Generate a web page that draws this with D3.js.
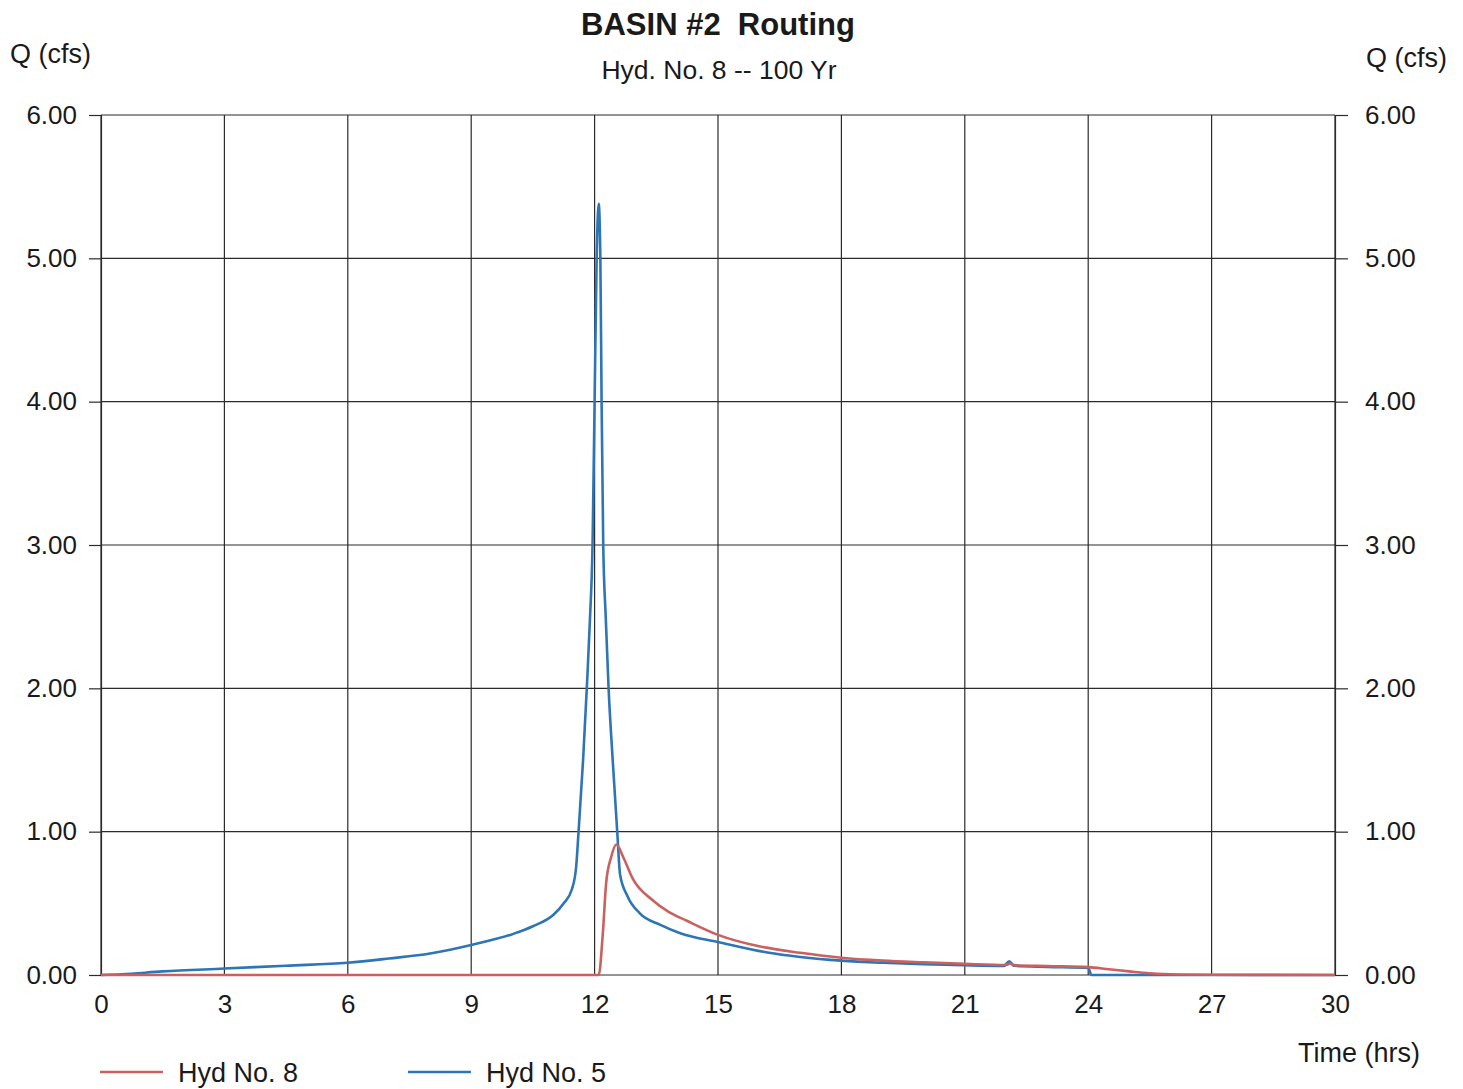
<!DOCTYPE html>
<html>
<head>
<meta charset="utf-8">
<script src="https://cdn.jsdelivr.net/npm/d3@7"></script>
<style>
  html, body { margin: 0; padding: 0; background: #ffffff; }
  svg { display: block; font-family: "Liberation Sans", Arial, sans-serif; }
</style>
</head>
<body>
<svg id="chart" width="1463" height="1089"></svg>
<script>
// Hydrograph ordinates, time in hours, flow in cfs
const hyd5Time = [0, 0.5, 1.5, 3, 4.5, 6, 7, 8, 9, 10, 10.5, 11, 11.25, 11.45, 11.55, 11.61, 11.72, 11.81, 11.89, 11.95,
  12.0, 12.05, 12.1, 12.14, 12.17, 12.21, 12.27, 12.34, 12.44, 12.55, 12.62, 12.8, 13.1, 13.6, 14.1, 15, 16.2, 17,
  18, 19, 20, 21, 21.95, 22.08, 22.2, 23, 24, 24.08, 30];
const hyd5Flow = [0, 0.005, 0.025, 0.045, 0.065, 0.085, 0.115, 0.15, 0.21, 0.285, 0.34, 0.42, 0.5, 0.6, 0.75, 1.0, 1.5, 2.0, 2.5, 3.0,
  4.0, 5.0, 5.38, 5.0, 4.0, 3.0, 2.5, 2.0, 1.5, 1.0, 0.7, 0.55, 0.43, 0.35, 0.29, 0.23, 0.157, 0.126,
  0.1, 0.085, 0.075, 0.068, 0.064, 0.095, 0.064, 0.057, 0.05, 0.0, 0.0];

const hyd8Time = [0, 12.1, 12.2, 12.28, 12.4, 12.53, 12.7, 12.93, 13.42, 13.8, 14.23, 15, 16, 17, 18, 19, 20, 21, 22, 22.1, 22.2,
  23, 24, 24.5, 25, 25.5, 26.2, 27, 30];
const hyd8Flow = [0, 0, 0.29, 0.64, 0.82, 0.91, 0.82, 0.67, 0.52, 0.44, 0.38, 0.28, 0.2, 0.155, 0.12, 0.1, 0.088, 0.078, 0.07, 0.08, 0.069,
  0.062, 0.055, 0.04, 0.025, 0.012, 0.004, 0.002, 0];

const xTicks = [0, 3, 6, 9, 12, 15, 18, 21, 24, 27, 30];
const yTicks = [0, 1, 2, 3, 4, 5, 6];

const seriesList = [
  { name: "Hyd No. 5", time: hyd5Time, flow: hyd5Flow, color: "#2e75b6" },
  { name: "Hyd No. 8", time: hyd8Time, flow: hyd8Flow, color: "#c9615f" }
];
const legendOrder = ["Hyd No. 8", "Hyd No. 5"];

const svg = d3.select("#chart");
const plot = { left: 101, right: 1335, top: 115, bottom: 975 };

const x = d3.scaleLinear().domain([0, 30]).range([plot.left, plot.right]);
const y = d3.scaleLinear().domain([0, 6]).range([plot.bottom, plot.top]);

const gridColor = "#2b2b2b";
const textColor = "#1a1a1a";

// Grid
const grid = svg.append("g").attr("stroke", gridColor).attr("stroke-width", 1.2);
grid.selectAll("line.v").data(xTicks).join("line")
  .attr("class", "v")
  .attr("x1", d => x(d)).attr("x2", d => x(d))
  .attr("y1", plot.top).attr("y2", plot.bottom);
grid.selectAll("line.h").data(yTicks).join("line")
  .attr("class", "h")
  .attr("x1", plot.left).attr("x2", plot.right)
  .attr("y1", d => y(d)).attr("y2", d => y(d));

// Axes
const fmt = d3.format(".2f");
const leftAxis = d3.axisLeft(y).tickValues(yTicks).tickFormat(fmt).tickSize(12).tickPadding(12);
const rightAxis = d3.axisRight(y).tickValues(yTicks).tickFormat(fmt).tickSize(13).tickPadding(17);
const bottomAxis = d3.axisBottom(x).tickValues(xTicks).tickFormat(d3.format("d")).tickSize(0).tickPadding(20);

function styleAxis(g) {
  g.select(".domain").attr("stroke", gridColor).attr("stroke-width", 1.2);
  g.selectAll(".tick line").attr("stroke", gridColor).attr("stroke-width", 1.2);
  g.selectAll(".tick text").attr("fill", textColor).attr("font-size", 26)
    .attr("font-family", "'Liberation Sans', Arial, sans-serif");
}

svg.append("g").attr("transform", `translate(${plot.left},0)`).call(leftAxis).call(styleAxis);
svg.append("g").attr("transform", `translate(${plot.right},0)`).call(rightAxis).call(styleAxis);
svg.append("g").attr("transform", `translate(0,${plot.bottom})`).call(bottomAxis).call(styleAxis)
  .call(g => g.select(".domain").remove());

// Flow lines
const line = d3.line()
  .x(d => x(d[0]))
  .y(d => y(d[1]))
  .curve(d3.curveMonotoneX);

svg.append("g").selectAll("path").data(seriesList).join("path")
  .attr("d", s => line(s.time.map((t, i) => [t, s.flow[i]])))
  .attr("fill", "none")
  .attr("stroke", s => s.color)
  .attr("stroke-width", 2.6)
  .attr("stroke-linejoin", "round");

// Titles
svg.append("text").attr("x", 718).attr("y", 35).attr("text-anchor", "middle")
  .attr("font-size", 31).attr("font-weight", "bold").attr("fill", textColor)
  .attr("xml:space", "preserve").text("BASIN #2  Routing");
svg.append("text").attr("x", 719).attr("y", 79).attr("text-anchor", "middle")
  .attr("font-size", 26.5).attr("fill", textColor).text("Hyd. No. 8 -- 100 Yr");
svg.append("text").attr("x", 10).attr("y", 63)
  .attr("font-size", 27).attr("fill", textColor).text("Q (cfs)");
svg.append("text").attr("x", 1366).attr("y", 67)
  .attr("font-size", 27).attr("fill", textColor).text("Q (cfs)");
svg.append("text").attr("x", 1420).attr("y", 1062).attr("text-anchor", "end")
  .attr("font-size", 27).attr("fill", textColor).text("Time (hrs)");

// Legend
const legendX = [100, 408];
const legend = svg.append("g").selectAll("g")
  .data(legendOrder.map(n => seriesList.find(s => s.name === n)))
  .join("g")
  .attr("transform", (d, i) => `translate(${legendX[i]},1072)`);
legend.append("line").attr("x1", 0).attr("x2", 63).attr("y1", 0).attr("y2", 0)
  .attr("stroke", d => d.color).attr("stroke-width", 2.6);
legend.append("text").attr("x", 78).attr("y", 10)
  .attr("font-size", 27).attr("fill", textColor).text(d => d.name);
</script>
</body>
</html>
